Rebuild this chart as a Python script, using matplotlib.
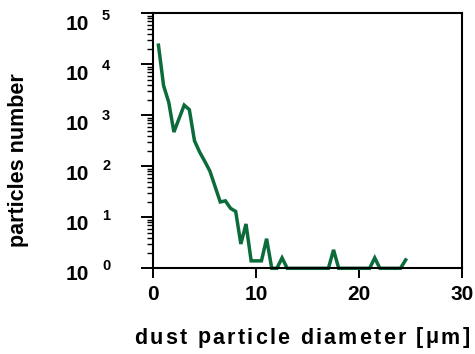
import matplotlib
matplotlib.use("Agg")
import matplotlib.pyplot as plt
import matplotlib.transforms as mtransforms
from matplotlib.ticker import LogLocator, NullFormatter, FixedLocator

# particle size distribution
diameter = [0.5, 1.0, 1.5, 2.0, 3.0, 3.5, 4.0, 4.5, 5.0, 5.5, 6.5, 7.0, 7.5, 8.0,
            8.5, 9.0, 9.5, 10.0, 10.5, 11.0, 11.5, 12.0, 12.5, 13.0, 17.0, 17.5,
            18.0, 21.0, 21.5, 22.0, 24.0, 24.5]
counts = [23700, 3800, 1800, 470, 1580, 1290, 316, 190, 125, 80, 20, 21, 15, 13,
          3.0, 7.4, 1.4, 1.4, 1.4, 3.8, 1, 1, 1.6, 1, 1, 2.3,
          1, 1, 1.6, 1, 1, 1.46]

x_ticks = [0, 10, 20, 30]
y_exponents = [0, 1, 2, 3, 4, 5]
x_label = "dust particle diameter [\u03bcm]"
y_label = "particles number"

FONT = "Liberation Sans"
LINE_COLOR = "#0b6b3b"

fig = plt.figure(figsize=(4.75, 3.54), dpi=100)
ax = fig.add_axes([153.3 / 475, 1 - 268.3 / 354, 309 / 475, (268.3 - 13.3) / 354])

ax.plot(diameter, counts, color=LINE_COLOR, lw=2.5, solid_joinstyle="miter",
        zorder=2, clip_on=False)

ax.set_yscale("log")
ax.set_xlim(0, 30)
ax.set_ylim(1, 1e5)

for s in ax.spines.values():
    s.set_linewidth(1.5)
    s.set_color("black")

ax.xaxis.set_major_locator(FixedLocator(x_ticks))
ax.set_xticklabels([str(v) for v in x_ticks], fontfamily=FONT,
                   fontweight="bold", fontsize=15)
ax.tick_params(axis="x", which="major", direction="out", length=7.2, width=1.4,
               pad=5)
ax.tick_params(axis="x", which="minor", bottom=False)

ax.yaxis.set_major_locator(FixedLocator([10 ** k for k in y_exponents]))
ax.yaxis.set_minor_locator(LogLocator(base=10, subs=range(2, 10), numticks=20))
ax.yaxis.set_major_formatter(NullFormatter())
ax.yaxis.set_minor_formatter(NullFormatter())
ax.tick_params(axis="y", which="major", direction="out", length=8.3, width=1.4)
ax.tick_params(axis="y", which="minor", direction="out", length=4.5, width=1.0)

# y tick labels written as "10" with a detached raised exponent
ytrans = ax.get_yaxis_transform()
for k in y_exponents:
    shift = -(6.0 + 1.1 * k) * 0.72 / 72
    t = ytrans + mtransforms.ScaledTranslation(0, shift, fig.dpi_scale_trans)
    ax.text(-0.207, 10 ** k, "10", transform=t, ha="right", va="center",
            fontfamily=FONT, fontweight="bold", fontsize=15, clip_on=False)
    t2 = ytrans + mtransforms.ScaledTranslation(0, shift + 8.5 * 0.72 / 72,
                                                fig.dpi_scale_trans)
    ax.text(-0.166, 10 ** k, str(k), transform=t2, ha="left", va="center",
            fontfamily=FONT, fontweight="bold", fontsize=10.5, clip_on=False)

fig.text(19 / 475, 1 - 160 / 354, y_label, rotation=90, ha="center", va="center",
         fontfamily=FONT, fontweight="bold", fontsize=15.5)


def spaced_text(fig, xc, yc, s, total_px, **kw):
    """Draw a string character by character, tracked out to a given width."""
    renderer = fig.canvas.get_renderer()
    widths = []
    for ch in s:
        if ch == " ":
            tmp = fig.text(0, 0, "a a", **kw)
            w_full = tmp.get_window_extent(renderer).width
            tmp.remove()
            tmp = fig.text(0, 0, "aa", **kw)
            w_nospace = tmp.get_window_extent(renderer).width
            tmp.remove()
            widths.append(w_full - w_nospace)
        else:
            tmp = fig.text(0, 0, ch, **kw)
            widths.append(tmp.get_window_extent(renderer).width)
            tmp.remove()
    spacing = (total_px - sum(widths)) / (len(s) - 1)
    x = xc * fig.bbox.width - total_px / 2
    for ch, w in zip(s, widths):
        if ch != " ":
            fig.text(x / fig.bbox.width, yc, ch, ha="left", va="center", **kw)
        x += w + spacing


spaced_text(fig, 302 / 475, 1 - 338 / 354, x_label, 335,
            fontfamily=FONT, fontweight="bold", fontsize=15.5)

fig.savefig("out.png", dpi=100)
